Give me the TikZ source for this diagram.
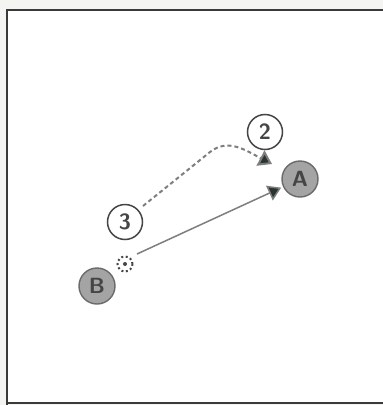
\documentclass[tikz,border=0pt]{standalone}
\usetikzlibrary{arrows.meta}
\definecolor{bgpaper}{HTML}{F4F4F2}
\definecolor{framec}{HTML}{3A3A3A}
\definecolor{ringc}{HTML}{454545}
\definecolor{playerfill}{HTML}{A4A4A4}
\definecolor{linec}{HTML}{7E7E7E}
\definecolor{headc}{HTML}{2A3430}
\tikzset{
  numcircle/.style={circle, draw=ringc, line width=1.5pt, fill=white, minimum size=35pt, inner sep=0pt, font=\sffamily\bfseries\fontsize{22}{22}\selectfont, text=ringc},
  player/.style={circle, draw=ringc!80, line width=1.4pt, fill=playerfill, minimum size=36pt, inner sep=0pt, font=\sffamily\bfseries\fontsize{22}{22}\selectfont, text=ringc},
  runarrow/.style={draw=linec, line width=1.5pt, -{Triangle[length=13pt,width=16pt,fill=headc]}},
  passarrow/.style={draw=linec, line width=2pt, dash pattern=on 4pt off 3pt, -{Triangle[length=13pt,width=17pt,fill=headc]}},
}
\begin{document}
\begin{tikzpicture}[x=1pt,y=-1pt]
\useasboundingbox (0,0) rectangle (383,405);
\fill[bgpaper] (0,0) rectangle (383,405);
\fill[white] (8,11) rectangle (383,403);
\draw[framec, line width=2pt] (7,405) -- (7,10) -- (383,10);
\draw[framec, line width=1.5pt] (7,403) -- (383,403);
% nodes
\node[numcircle] (n2) at (265,132) {2};
\node[numcircle] (n3) at (125,222) {3};
\node[player] (A) at (300,179) {A};
\node[player] (B) at (97,286) {B};
\node[circle, draw=ringc, dash pattern=on 2pt off 2.5pt, line width=2pt, minimum size=15pt, inner sep=0pt] (mk) at (125,264) {};
\fill[ringc] (mk.center) circle (2pt);
\coordinate (s1) at (137,254);
\coordinate (d0) at (143,206);
\coordinate (d1) at (210,152);
\coordinate (d2) at (272,164);
% connectors
\draw[runarrow, shorten >=2pt] (s1) -- (A);
\draw[passarrow] (d0) -- (d1) .. controls (228,138) and (245,150) .. (d2);
\end{tikzpicture}
\end{document}
